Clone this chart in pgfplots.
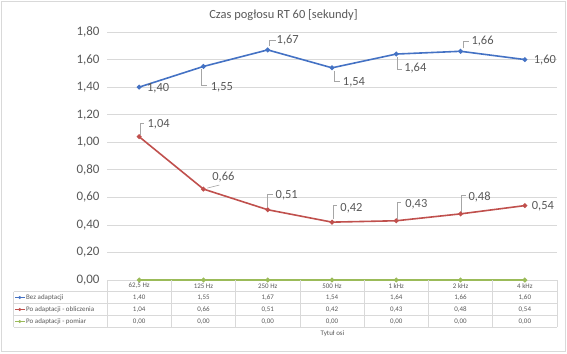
\documentclass[border=0pt]{standalone}
\usepackage{pgfplots}
\pgfplotsset{compat=1.18}
\usepackage{pgfplotstable}
\usepackage{fontspec}
\setmainfont{Carlito}
\definecolor{cblue}{HTML}{4472C4}
\definecolor{cred}{HTML}{C0504D}
\definecolor{cgreen}{HTML}{9BBB59}
\definecolor{ctext}{HTML}{595959}
\definecolor{cgrid}{HTML}{D9D9D9}
\definecolor{clead}{HTML}{A6A6A6}
\pgfkeys{/pgf/number format/.cd, use comma, fixed, fixed zerofill, precision=2, assume math mode=true}

\pgfplotstableread{
x y dx dy
0 1.40 19 -1
1 1.55 18.5 -21
2 1.67 20 10
3 1.54 22 -14
4 1.64 19 -14
5 1.66 22 10
6 1.60 20 -1
}\bez
\pgfplotstableread{
x y dx dy
0 1.04 19.5 12
1 0.66 20 12
2 0.51 19 14
3 0.42 19.5 14
4 0.43 20 16.5
5 0.48 19 17
6 0.54 18 -1
}\obl
\pgfplotstableread{
x y
0 0
1 0
2 0
3 0
4 0
5 0
6 0
}\pom

\pgfplotsset{lbl/.style={
  point meta=y,
  nodes near coords={\pgfmathprintnumber{\pgfplotspointmeta}},
  visualization depends on={\thisrow{dx} \as \dx},
  visualization depends on={\thisrow{dy} \as \dy},
  every node near coord/.append style={anchor=center, xshift=\dx*1bp, yshift=\dy*1bp,
     font=\fontsize{12.5}{14}\selectfont, text=ctext, inner sep=0pt},
}}

\begin{document}
\begin{tikzpicture}[x=1bp,y=1bp]
\path[use as bounding box] (0,0) rectangle (567,353);
\draw[cgrid, line width=0.6bp] (1.5,1.5) rectangle (565.5,351.5);
\node[font=\fontsize{12.5}{14}\selectfont, text=ctext] at (283.5,338) {Czas pogłosu RT 60 [sekundy]};
\begin{axis}[
  at={(107bp,73bp)}, anchor=south west,
  scale only axis, width=450bp, height=248bp,
  xmin=-0.5, xmax=6.5, ymin=0, ymax=1.8,
  xtick=\empty,
  ytick={0,0.2,0.4,0.6,0.8,1.0,1.2,1.4,1.6,1.8},
  axis line style={draw=none},
  tick style={draw=none},
  ymajorgrids, major grid style={cgrid, line width=0.7bp},
  yticklabel style={font=\fontsize{13}{14}\selectfont, text=ctext, xshift=-4bp},
  clip=false,
]
\addplot[cgreen, line width=1.6bp, mark=*, mark size=1.5bp] table[x=x,y=y] {\pom};
\addplot[cblue, line width=1.6bp, mark=*, mark size=1.5bp, lbl] table[x=x,y=y] {\bez};
\addplot[cred, line width=1.6bp, mark=*, mark size=1.5bp, lbl] table[x=x,y=y] {\obl};
% leader lines
\draw[clead, line width=0.6bp] ([shift={(-2bp,-3bp)}]axis cs:1,1.55) -- ++(0bp,-16bp) -- ++(6bp,0bp);
\draw[clead, line width=0.6bp] ([shift={(2bp,4bp)}]axis cs:2,1.67) -- ++(0bp,6bp) -- ++(6bp,0bp);
\draw[clead, line width=0.6bp] ([shift={(2bp,-3bp)}]axis cs:3,1.54) -- ++(0bp,-10bp) -- ++(6bp,0bp);
\draw[clead, line width=0.6bp] ([shift={(1bp,-3bp)}]axis cs:4,1.64) -- ++(0bp,-12bp) -- ++(5bp,0bp);
\draw[clead, line width=0.6bp] ([shift={(3bp,3bp)}]axis cs:5,1.66) -- ++(0bp,7bp) -- ++(5bp,0bp);
\draw[clead, line width=0.6bp] ([shift={(1bp,2bp)}]axis cs:0,1.04) -- ++(0bp,11bp) -- ++(4bp,0bp);
\draw[clead, line width=0.6bp] ([shift={(4bp,1bp)}]axis cs:1,0.66) -- ++(12bp,3bp);
\draw[clead, line width=0.6bp] ([shift={(0bp,3bp)}]axis cs:2,0.51) -- ++(0bp,12bp) -- ++(5bp,0bp);
\draw[clead, line width=0.6bp] ([shift={(1bp,3bp)}]axis cs:3,0.42) -- ++(0bp,14bp) -- ++(4bp,0bp);
\draw[clead, line width=0.6bp] ([shift={(1bp,2bp)}]axis cs:4,0.43) -- ++(0bp,16bp) -- ++(4bp,0bp);
\draw[clead, line width=0.6bp] ([shift={(1bp,1bp)}]axis cs:5,0.48) -- ++(0bp,18bp) -- ++(4bp,0bp);
\end{axis}
% data table
\begin{scope}[cgrid, line width=0.6bp]
\draw (107,61.3) -- (557,61.3);
\draw (13.7,49.7) -- (557,49.7);
\draw (13.7,37.3) -- (557,37.3);
\draw (13.7,25.7) -- (557,25.7);
\draw (13.7,61.3) -- (107,61.3);
\draw (13.7,61.3) -- (13.7,25.7);
\foreach \k in {0,...,7} { \draw ({107+\k*450/7},73) -- ({107+\k*450/7},25.7); }
\end{scope}
\begin{scope}[font=\fontsize{7}{8}\selectfont, text=ctext]
\node at ({107+0.5*450/7},67.2) {62,5 Hz};
\node at ({107+1.5*450/7},67.2) {125 Hz};
\node at ({107+2.5*450/7},67.2) {250 Hz};
\node at ({107+3.5*450/7},67.2) {500 Hz};
\node at ({107+4.5*450/7},67.2) {1 kHz};
\node at ({107+5.5*450/7},67.2) {2 kHz};
\node at ({107+6.5*450/7},67.2) {4 kHz};
\node at ({107+0.5*450/7},55.5) {1,40};
\node at ({107+1.5*450/7},55.5) {1,55};
\node at ({107+2.5*450/7},55.5) {1,67};
\node at ({107+3.5*450/7},55.5) {1,54};
\node at ({107+4.5*450/7},55.5) {1,64};
\node at ({107+5.5*450/7},55.5) {1,66};
\node at ({107+6.5*450/7},55.5) {1,60};
\node at ({107+0.5*450/7},43.5) {1,04};
\node at ({107+1.5*450/7},43.5) {0,66};
\node at ({107+2.5*450/7},43.5) {0,51};
\node at ({107+3.5*450/7},43.5) {0,42};
\node at ({107+4.5*450/7},43.5) {0,43};
\node at ({107+5.5*450/7},43.5) {0,48};
\node at ({107+6.5*450/7},43.5) {0,54};
\foreach \i in {0,...,6} { \node at ({107+(\i+0.5)*450/7},31.5) {0,00}; }
\node[anchor=west, inner sep=0pt] at (26,55.5) {Bez adaptacji};
\node[anchor=west, inner sep=0pt] at (26,43.5) {Po adaptacji - obliczenia};
\node[anchor=west, inner sep=0pt] at (26,31.5) {Po adaptacji - pomiar};
\node at (332.5,19.7) {Tytuł osi};
\end{scope}
\fill[cblue] (15,54.6) rectangle (24.5,56.4); \fill[cblue] (19.75,55.5) circle (1.6bp);
\fill[cred] (15,42.6) rectangle (24.5,44.4); \fill[cred] (19.75,43.5) circle (1.6bp);
\fill[cgreen] (15,30.6) rectangle (24.5,32.4); \fill[cgreen] (19.75,31.5) circle (1.6bp);
\end{tikzpicture}
\end{document}
